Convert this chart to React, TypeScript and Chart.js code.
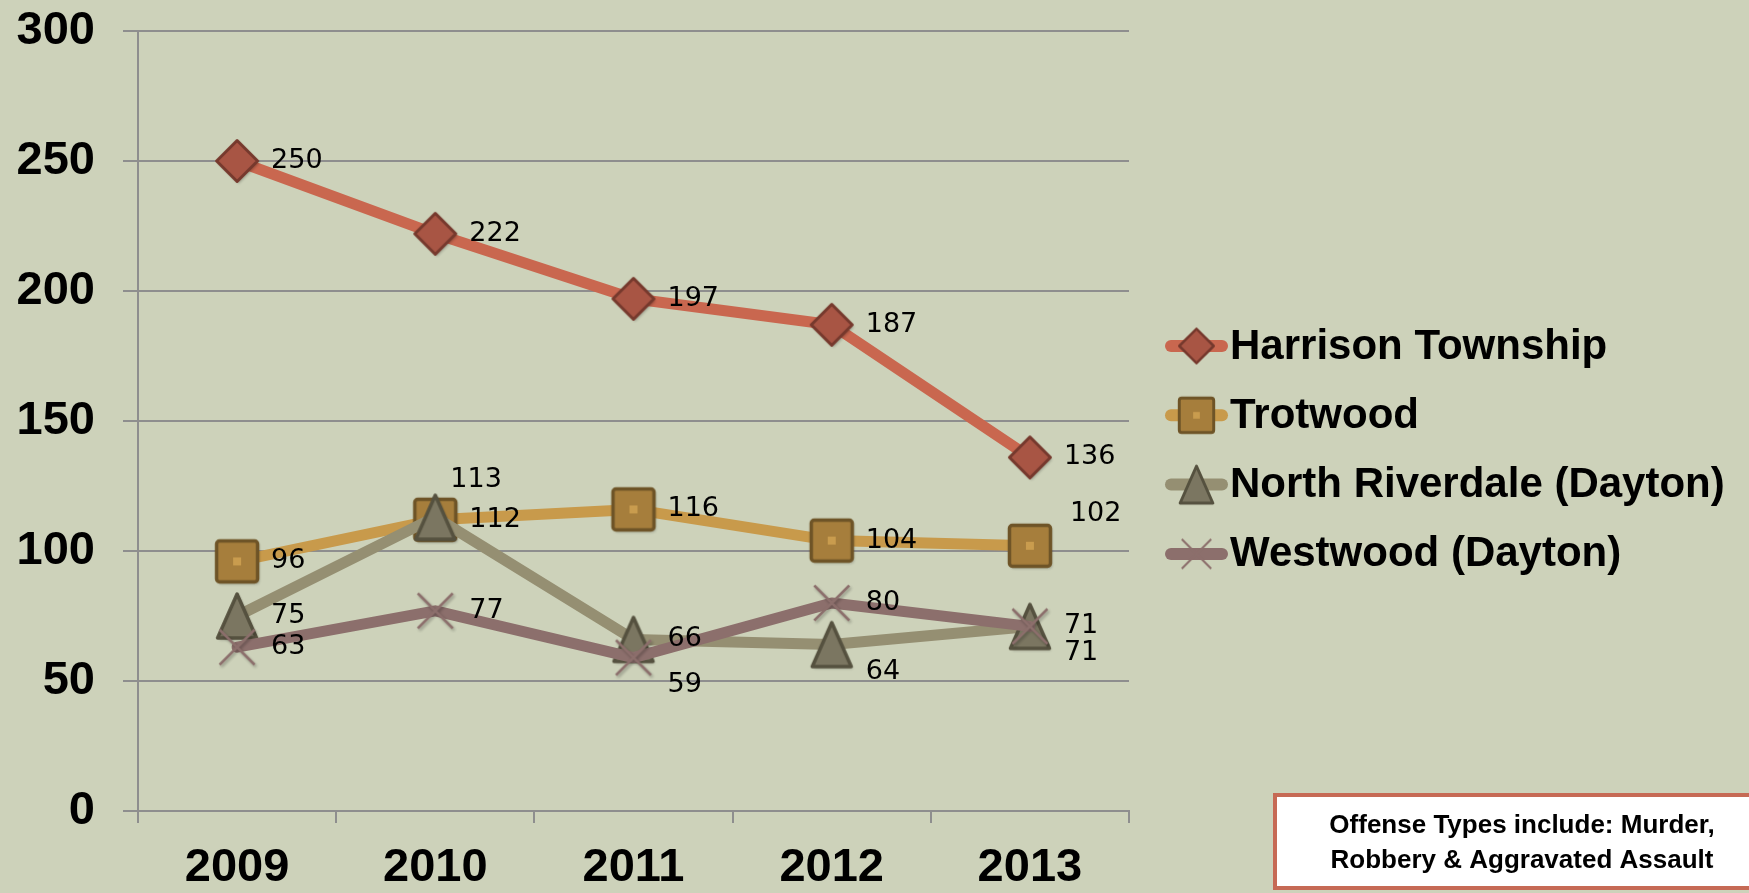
import React, { useEffect, useRef } from "react";
import { Chart, registerables } from "chart.js";

Chart.register(...registerables);

// ---------- data ----------
const years = ["2009", "2010", "2011", "2012", "2013"];
const harrison = [250, 222, 197, 187, 136];
const trotwood = [96, 112, 116, 104, 102];
const northRiverdale = [75, 113, 66, 64, 71];
const westwood = [63, 77, 59, 80, 71];
const seriesNames = [
  "Harrison Township",
  "Trotwood",
  "North Riverdale (Dayton)",
  "Westwood (Dayton)",
];
const yMin = 0;
const yMax = 300;
const yStep = 50;
const noteLines = ["Offense Types include: Murder,", "Robbery & Aggravated Assault"];
// label placement per series/point: r = right, ur = up-right, u = up, dr = down-right
const labelPlacement = [
  ["r", "r", "r", "r", "r"],
  ["r", "r", "r", "r", "ur"],
  ["r", "u", "r", "dr", "dr"],
  ["r", "r", "dr", "r", "r"],
];

// ---------- styles ----------
const BG = "#CDD2BA";
const GRID = "#8E8E8E";
const lineColors = ["#C9674F", "#C89A4B", "#958F72", "#8C6F6C"];
const markerFill = ["#A85544", "#A67E3C", "#7B7661", "#8C6F6C"];
const markerStroke = ["#76392D", "#6E5427", "#55513F", "#8C6F6C"];
const kinds = ["diamond", "square", "triangle", "cross"];
const placeOffsets: Record<string, [number, number]> = {
  r: [34, 0],
  ur: [40, -32],
  u: [15, -37],
  dr: [34, 27],
};

function makeMarker(kind: string, fill: string, stroke: string, scale: number, shadow: boolean) {
  const pad = 8;
  const base = 48 * scale;
  const c = document.createElement("canvas");
  const s = Math.ceil(base + pad * 2);
  c.width = s;
  c.height = s;
  const ctx = c.getContext("2d")!;
  ctx.translate(s / 2, s / 2);
  if (shadow) {
    ctx.shadowColor = "rgba(0,0,0,0.28)";
    ctx.shadowBlur = 3;
    ctx.shadowOffsetX = 1.5;
    ctx.shadowOffsetY = 2;
  }
  ctx.lineJoin = "round";
  ctx.fillStyle = fill;
  ctx.strokeStyle = stroke;
  if (kind === "diamond") {
    const r = 20.5 * scale;
    ctx.lineWidth = 3 * scale;
    ctx.beginPath();
    ctx.moveTo(0, -r);
    ctx.lineTo(r, 0);
    ctx.lineTo(0, r);
    ctx.lineTo(-r, 0);
    ctx.closePath();
    ctx.fill();
    ctx.shadowColor = "transparent";
    ctx.stroke();
  } else if (kind === "square") {
    const h = 20.5 * scale;
    ctx.lineWidth = 3.5 * scale;
    ctx.beginPath();
    (ctx as any).roundRect
      ? (ctx as any).roundRect(-h, -h, 2 * h, 2 * h, 3 * scale)
      : ctx.rect(-h, -h, 2 * h, 2 * h);
    ctx.fill();
    ctx.shadowColor = "transparent";
    ctx.stroke();
    ctx.fillStyle = "#C99C4E";
    const d = 4 * scale;
    ctx.fillRect(-d, -d, 2 * d, 2 * d);
  } else if (kind === "triangle") {
    const hw = 19.5 * scale;
    const hh = 22 * scale;
    ctx.lineWidth = 3.5 * scale;
    ctx.beginPath();
    ctx.moveTo(0, -hh);
    ctx.lineTo(hw, hh);
    ctx.lineTo(-hw, hh);
    ctx.closePath();
    ctx.fill();
    ctx.shadowColor = "transparent";
    ctx.stroke();
  } else {
    const r = 17.5 * scale;
    ctx.lineWidth = 2.5 * scale;
    ctx.lineCap = "butt";
    ctx.beginPath();
    ctx.moveTo(-r, -r);
    ctx.lineTo(r, r);
    ctx.moveTo(r, -r);
    ctx.lineTo(-r, r);
    ctx.stroke();
  }
  return c;
}

export default function App() {
  const ref = useRef<HTMLCanvasElement | null>(null);

  useEffect(() => {
    document.body.style.margin = "0";
    document.body.style.background = BG;
    const canvas = ref.current!;
    const seriesData = [harrison, trotwood, northRiverdale, westwood];
    const markers = kinds.map((k, i) => makeMarker(k, markerFill[i], markerStroke[i], 1, true));
    const legendMarkers = kinds.map((k, i) => makeMarker(k, markerFill[i], markerStroke[i], 0.84, false));

    const labelsPlugin = {
      id: "valueLabels",
      afterDatasetsDraw(chart: any) {
        const ctx = chart.ctx;
        ctx.save();
        ctx.font = "27px 'DejaVu Sans', Verdana, sans-serif";
        ctx.fillStyle = "#000";
        ctx.textAlign = "left";
        ctx.textBaseline = "middle";
        seriesData.forEach((arr, si) => {
          const meta = chart.getDatasetMeta(si);
          arr.forEach((v, j) => {
            const p = meta.data[j];
            const off = placeOffsets[labelPlacement[si][j]];
            ctx.fillText(String(v), p.x + off[0], p.y + off[1]);
          });
        });
        ctx.restore();
      },
    };

    const decorPlugin = {
      id: "decor",
      beforeDraw(chart: any) {
        const ctx = chart.ctx;
        ctx.save();
        ctx.fillStyle = BG;
        ctx.fillRect(0, 0, chart.width, chart.height);
        ctx.restore();
      },
      afterDraw(chart: any) {
        const ctx = chart.ctx;
        ctx.save();
        // legend
        const x0 = 1165;
        const x1 = 1228;
        const rowY0 = 346;
        const rowGap = 69.3;
        seriesNames.forEach((name, i) => {
          const y = rowY0 + i * rowGap;
          ctx.strokeStyle = lineColors[i];
          ctx.lineWidth = 12;
          ctx.lineCap = "round";
          ctx.beginPath();
          ctx.moveTo(x0 + 6, y);
          ctx.lineTo(x1 - 6, y);
          ctx.stroke();
          const m = legendMarkers[i];
          ctx.drawImage(m, (x0 + x1) / 2 - m.width / 2, y - m.height / 2);
          ctx.fillStyle = "#000";
          ctx.font = "bold 42px 'Liberation Sans', Arial, sans-serif";
          ctx.textAlign = "left";
          ctx.textBaseline = "middle";
          ctx.fillText(name, x1 + 2, y + 1);
        });
        // note box
        const bx = 1275;
        const by = 795;
        const bw = 500;
        const bh = 93;
        ctx.fillStyle = "#FFFFFF";
        ctx.fillRect(bx, by, bw, bh);
        ctx.strokeStyle = "#C66A55";
        ctx.lineWidth = 4;
        ctx.strokeRect(bx, by, bw, bh);
        ctx.fillStyle = "#000";
        ctx.font = "bold 26px 'Liberation Sans', Arial, sans-serif";
        ctx.textAlign = "center";
        ctx.textBaseline = "middle";
        noteLines.forEach((t, i) => {
          ctx.fillText(t, 1522, 826 + i * 35);
        });
        ctx.restore();
      },
    };

    const chart = new Chart(canvas, {
      type: "line",
      data: {
        labels: years,
        datasets: seriesData.map((d, i) => ({
          label: seriesNames[i],
          data: d,
          borderColor: lineColors[i],
          backgroundColor: lineColors[i],
          borderWidth: 11,
          borderCapStyle: "round",
          borderJoinStyle: "round",
          pointStyle: markers[i] as any,
          pointRadius: 20,
          pointHoverRadius: 20,
          tension: 0,
          fill: false,
          order: 3 - i,
        })),
      },
      options: {
        animation: false,
        responsive: false,
        devicePixelRatio: 1,
        layout: { padding: { left: 0, right: 620, top: 24, bottom: 0 } },
        plugins: {
          legend: { display: false },
          tooltip: { enabled: false },
        },
        scales: {
          x: {
            offset: true,
            grid: {
              offset: true,
              drawOnChartArea: false,
              drawTicks: true,
              tickLength: 12,
              color: GRID,
              lineWidth: 2,
            },
            border: { display: true, color: GRID, width: 2 },
            ticks: {
              color: "#000",
              padding: 17,
              font: { family: "'Liberation Sans', Arial, sans-serif", size: 47, weight: "bold" },
              maxRotation: 0,
            },
            afterFit(scale: any) {
              scale.height = 82;
              scale.paddingLeft = 0;
              scale.paddingRight = 0;
            },
          },
          y: {
            min: yMin,
            max: yMax,
            ticks: {
              stepSize: yStep,
              color: "#000",
              padding: 28,
              font: {
                family: "'Liberation Sans', Arial, sans-serif",
                size: 47,
                weight: "bold",
                lineHeight: 0.9,
              },
            },
            grid: {
              color: GRID,
              lineWidth: 2,
              drawTicks: true,
              tickLength: 15,
            },
            border: { display: true, color: GRID, width: 2 },
            afterFit(scale: any) {
              scale.width = 138;
              scale.paddingTop = 0;
              scale.paddingBottom = 0;
            },
          },
        },
      },
      plugins: [decorPlugin, labelsPlugin],
    } as any);

    return () => chart.destroy();
  }, []);

  return (
    <canvas
      ref={ref}
      width={1749}
      height={893}
      style={{ display: "block", width: "1749px", height: "893px" }}
    />
  );
}
